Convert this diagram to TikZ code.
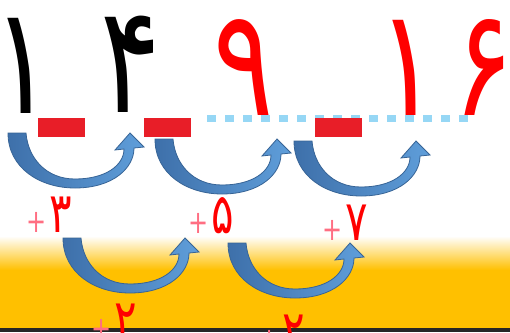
\documentclass[tikz,border=0pt]{standalone}
\usepackage{fontspec}
\newfontfamily\fafont[Script=Arabic,FakeStretch=0.75]{DejaVu Sans}
\definecolor{numred}{RGB}{255,0,0}
\definecolor{plusred}{RGB}{255,110,130}
\definecolor{boxred}{RGB}{232,30,40}
\definecolor{dotblue}{RGB}{150,215,245}
\definecolor{arrowdark}{RGB}{62,112,170}
\definecolor{arrowlight}{RGB}{95,158,218}
\definecolor{arrowedge}{RGB}{55,100,150}
\definecolor{groundorange}{RGB}{255,192,0}
\definecolor{stripgray}{RGB}{38,38,38}
\newcommand\addsign{{\color{plusred}\fontsize{32}{32}\selectfont+\kern3pt}}

\begin{document}
\begin{tikzpicture}[
  x=1pt,y=-1pt,
  bignum/.style={font=\fafont\fontsize{150}{150}\selectfont,inner sep=0pt,anchor=base},
  stepnum/.style={font=\fafont\fontsize{56}{56}\selectfont,text=numred,inner sep=0pt,anchor=base},
  gapbox/.style={fill=boxred,minimum width=47pt,minimum height=19pt,inner sep=0pt},
  dotline/.style={dotblue,line width=7pt,dash pattern=on 9pt off 9pt},
  jump/.pic={
    \draw[arrowedge,line width=0.8pt,left color=arrowdark,right color=arrowlight]
      (0,0) .. controls (0,35) and (32,55) .. (67,55)
      .. controls (105,55) and (126,35) .. (126,15)
      -- (136,14) -- (122,0) -- (107,17) -- (116,16)
      .. controls (116,32) and (98,46) .. (67,46)
      .. controls (38,46) and (20,25) .. (18,0) -- cycle;
  }
]
  % page and ground
  \useasboundingbox (0,0) rectangle (510,332);
  \clip (0,0) rectangle (510,332);
  \fill[white] (0,0) rectangle (510,332);
  \shade[top color=white,bottom color=groundorange] (0,236) rectangle (510,270);
  \fill[groundorange] (0,270) rectangle (510,332);
  \fill[stripgray] (0,328) rectangle (510,332);

  % the sequence
  \node[bignum] (n1) at (23,113) {۱};
  \node[bignum] (n4) at (131,112) {۴};
  \node[bignum,text=numred] (n9) at (244,115) {۹};
  \node[bignum,text=numred] (n16) at (446,115) {۱\kern16pt۶};

  \coordinate (dotstart) at (207,118);
  \coordinate (dotend) at (470,118);
  \draw[dotline] (dotstart) -- (dotend);

  \foreach \x/\name in {61.5/g1,167.5/g2,338/g3}
    \node[gapbox] (\name) at (\x,127.5) {};

  % first differences
  \foreach \x/\y in {8/133,155/139,294/141}
    \pic at (\x,\y) {jump};
  \node[stepnum] (d3) at (49,232) {\addsign۳};
  \node[stepnum] (d5) at (211,233) {\addsign۵};
  \node[stepnum] (d7) at (345,240) {\addsign۷};

  % second differences
  \foreach \x/\y in {63/238,228/243}
    \pic at (\x,\y) {jump};
  \node[stepnum] (e1) at (114,339) {\addsign۲};
  \node[stepnum] (e2) at (282,350) {\addsign۲};
\end{tikzpicture}
\end{document}
